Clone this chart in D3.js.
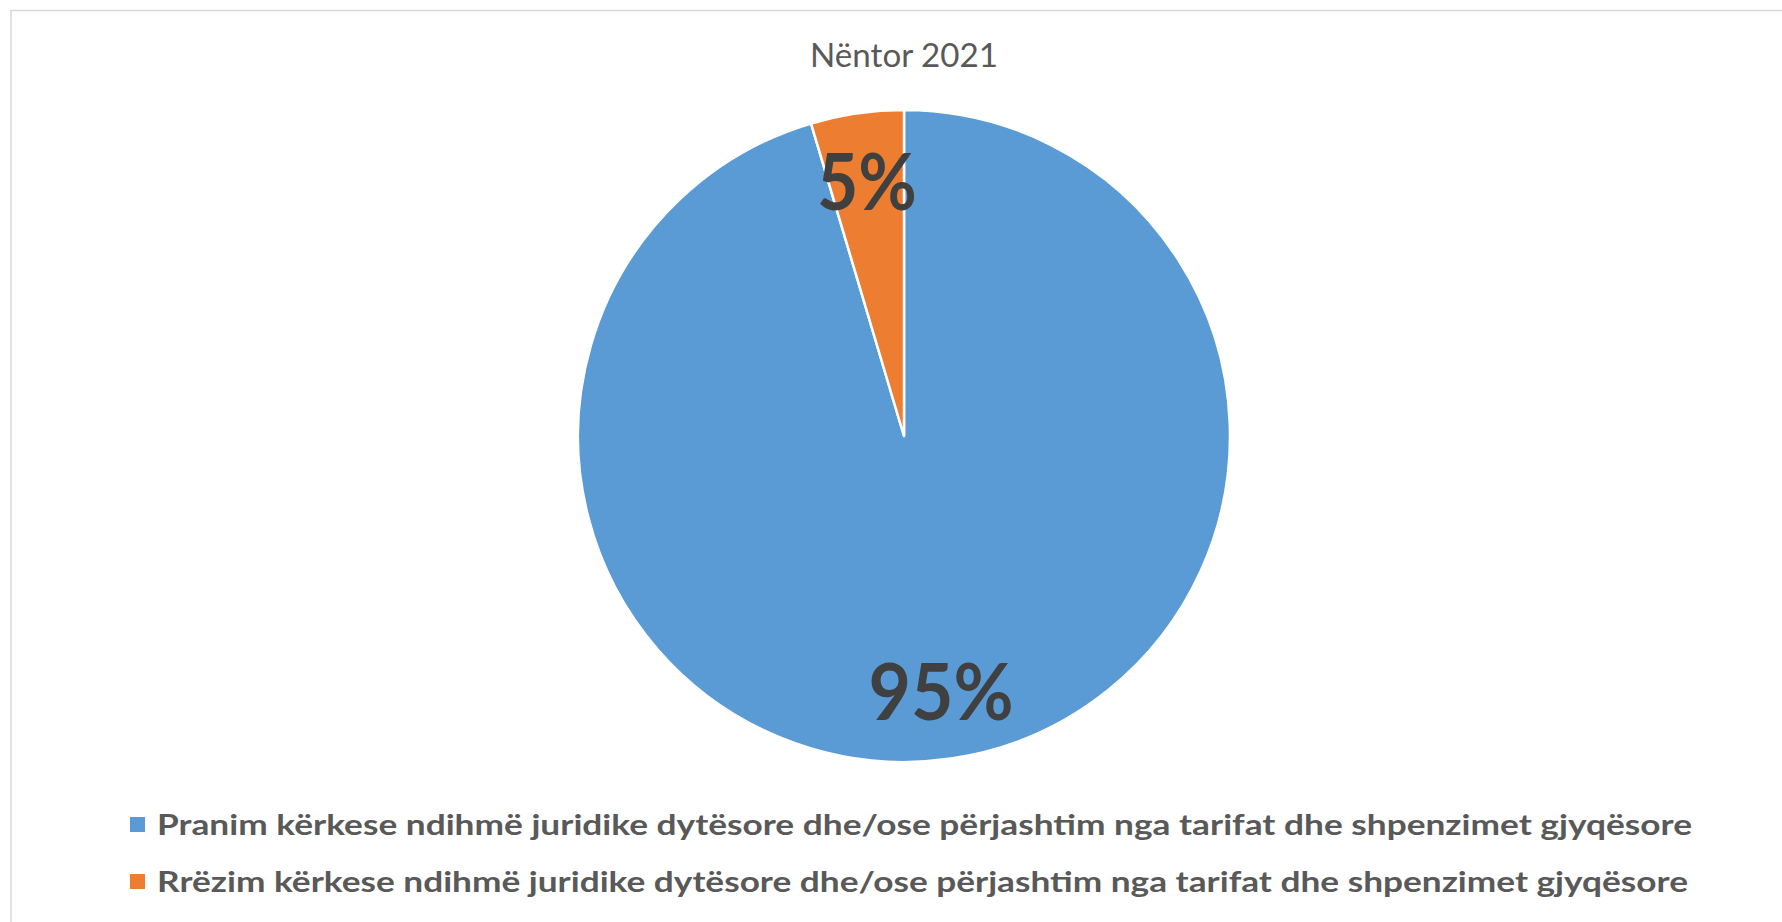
<!DOCTYPE html>
<html lang="sq">
<head>
<meta charset="utf-8">
<title>Nëntor 2021</title>
<style>
  body { margin: 0; background: #fff; }
  svg { display: block; }
</style>
</head>
<body>
<script src="https://d3js.org/d3.v7.min.js"></script>
<svg width="1782" height="922"></svg>
<script>
// data
var title = "Nëntor 2021";
var categories = [
  "Pranim kërkese ndihmë juridike dytësore dhe/ose përjashtim nga tarifat dhe shpenzimet gjyqësore",
  "Rrëzim kërkese ndihmë juridike dytësore dhe/ose përjashtim nga tarifat dhe shpenzimet gjyqësore"
];
var values = [95.4, 4.6];
var labels = ["95%", "5%"];

var colors = ["#5b9bd5", "#ed7d31"];
var font = "Lato, 'Open Sans', sans-serif";

var svg = d3.select("svg"),
    width = +svg.attr("width"),
    height = +svg.attr("height");

// chart area border (goes off the right and bottom of the picture)
svg.append("rect")
  .attr("x", 11).attr("y", 10.5)
  .attr("width", 1800).attr("height", 1000)
  .attr("fill", "none")
  .attr("stroke", "#d9d9d9")
  .attr("stroke-width", 1.5);

svg.append("text")
  .attr("x", 904).attr("y", 67)
  .attr("text-anchor", "middle")
  .attr("font-family", font)
  .attr("font-size", 32)
  .attr("fill", "#595959")
  .attr("textLength", 188)
  .attr("lengthAdjust", "spacingAndGlyphs")
  .text(title);

var cx = 904, cy = 436, radius = 326;
var g = svg.append("g").attr("transform", "translate(" + cx + "," + cy + ")");

var pie = d3.pie().sort(null).value(function(d) { return d; });
var arc = d3.arc().innerRadius(0).outerRadius(radius);
var labelArc = d3.arc().innerRadius(radius * 0.79).outerRadius(radius * 0.79);

var arcs = g.selectAll(".arc")
  .data(pie(values))
  .enter().append("g")
  .attr("class", "arc");

arcs.append("path")
  .attr("d", arc)
  .attr("fill", function(d, i) { return colors[i]; })
  .attr("stroke", "#fff")
  .attr("stroke-width", 2.5)
  .attr("stroke-linejoin", "round");

var labelW = [145, 100];
arcs.append("text")
  .attr("transform", function(d) {
    var c = labelArc.centroid(d);
    return "translate(" + c[0] + "," + (c[1] + 29) + ")";
  })
  .attr("text-anchor", "middle")
  .attr("font-family", font)
  .attr("font-weight", "bold")
  .attr("font-size", 78)
  .attr("fill", "#404040")
  .attr("textLength", function(d, i) { return labelW[i]; })
  .attr("lengthAdjust", "spacingAndGlyphs")
  .text(function(d, i) { return labels[i]; });

// legend
var legendY = [835, 892];
var legendW = [1535, 1531];
var legend = svg.selectAll(".legend")
  .data(categories)
  .enter().append("g")
  .attr("class", "legend");

legend.append("rect")
  .attr("x", 130)
  .attr("y", function(d, i) { return legendY[i] - 18; })
  .attr("width", 15).attr("height", 15)
  .attr("fill", function(d, i) { return colors[i]; });

legend.append("text")
  .attr("x", 157)
  .attr("y", function(d, i) { return legendY[i]; })
  .attr("font-family", font)
  .attr("font-weight", "bold")
  .attr("font-size", 28)
  .attr("fill", "#595959")
  .attr("textLength", function(d, i) { return legendW[i]; })
  .attr("lengthAdjust", "spacingAndGlyphs")
  .text(function(d) { return d; });
</script>
</body>
</html>
